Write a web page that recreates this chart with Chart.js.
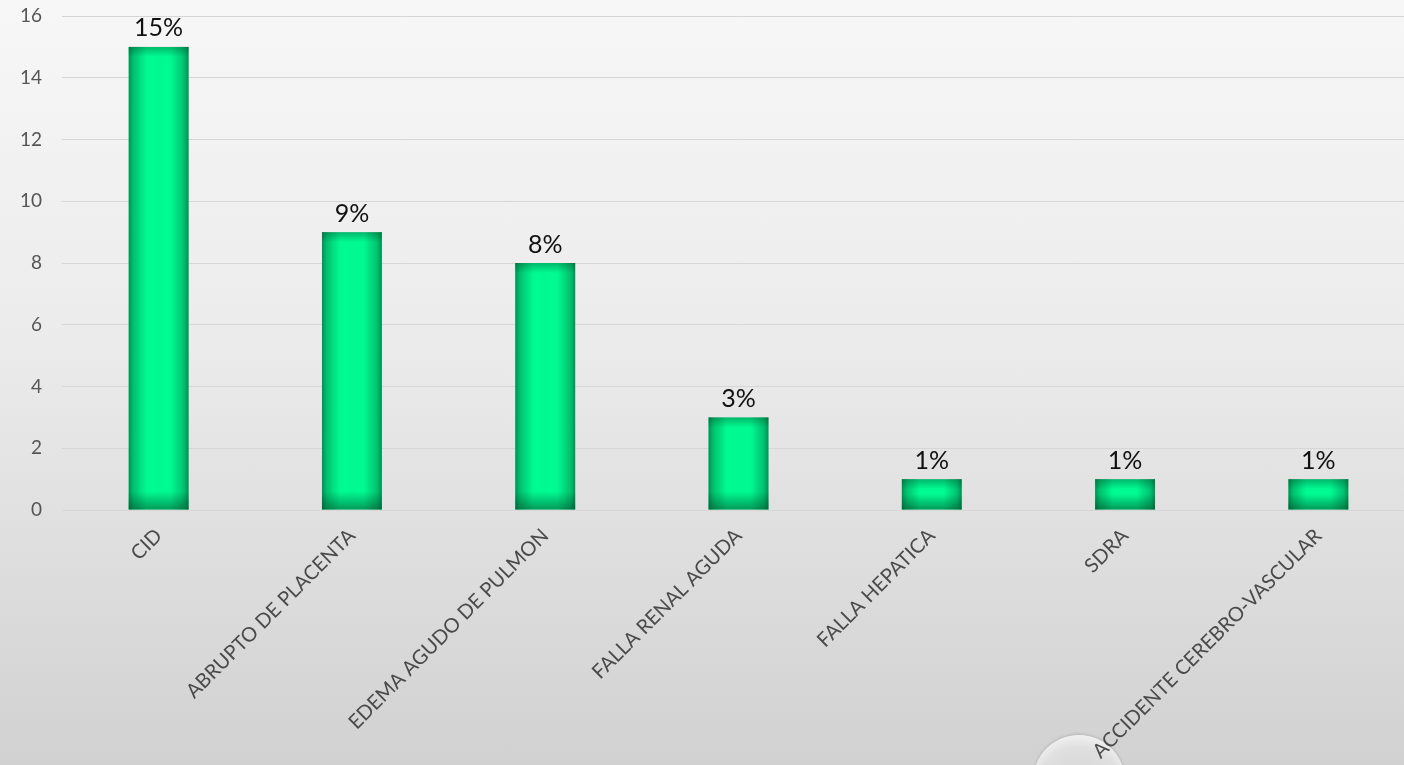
<!DOCTYPE html>
<html>
<head>
<meta charset="utf-8">
<script src="https://cdn.jsdelivr.net/npm/chart.js@4"></script>
<style>
  html, body { margin: 0; padding: 0; }
  body {
    width: 1404px;
    height: 765px;
    overflow: hidden;
    position: relative;
    background: linear-gradient(to bottom, #f7f7f7 0%, #ebebeb 45%, #d1d1d1 100%);
  }
  #wrap { position: absolute; left: 0; top: 0; width: 1415px; height: 765px; }
  #bubble {
    position: absolute;
    left: 1033px;
    top: 735px;
    width: 92px;
    height: 92px;
    border-radius: 50%;
    background: radial-gradient(circle at 50% 60%, rgba(210,210,210,0.9) 0%, rgba(225,225,225,0.9) 60%, rgba(250,250,250,0.95) 85%, rgba(180,180,180,0.8) 100%);
    box-shadow: 0 -1px 3px rgba(0,0,0,0.15);
  }
</style>
</head>
<body>
<div id="bubble"></div>
<div id="wrap"><canvas id="myChart" width="1415" height="765"></canvas></div>
<script>
const categorias = ["CID", "ABRUPTO DE PLACENTA", "EDEMA AGUDO DE PULMON", "FALLA RENAL AGUDA", "FALLA HEPATICA", "SDRA", "ACCIDENTE CEREBRO-VASCULAR"]
const valores = [15, 9, 8, 3, 1, 1, 1]
const etiquetas = ["15%", "9%", "8%", "3%", "1%", "1%", "1%"]

const ctx = document.querySelector("#myChart")

// sombra interior de cada barra
const sombraBarras = {
    id: "sombraBarras",
    afterDatasetsDraw(chart) {
        const c = chart.ctx
        chart.getDatasetMeta(0).data.forEach((bar) => {
            const x0 = bar.x - bar.width / 2
            const x1 = bar.x + bar.width / 2
            const y0 = bar.y
            const y1 = bar.base
            c.save()
            let g = c.createLinearGradient(x0, 0, x1, 0)
            g.addColorStop(0, "rgba(0,60,30,0.55)")
            g.addColorStop(0.08, "rgba(0,60,30,0.3)")
            g.addColorStop(0.3, "rgba(0,60,30,0)")
            g.addColorStop(0.7, "rgba(0,60,30,0)")
            g.addColorStop(0.92, "rgba(0,60,30,0.3)")
            g.addColorStop(1, "rgba(0,60,30,0.55)")
            c.fillStyle = g
            c.fillRect(x0, y0, x1 - x0, y1 - y0)
            const alto = Math.min(18, (y1 - y0) / 2)
            g = c.createLinearGradient(0, y1 - alto, 0, y1)
            g.addColorStop(0, "rgba(0,60,30,0)")
            g.addColorStop(1, "rgba(0,60,30,0.5)")
            c.fillStyle = g
            c.fillRect(x0, y1 - alto, x1 - x0, alto)
            const altoSup = Math.min(10, (y1 - y0) / 3)
            g = c.createLinearGradient(0, y0, 0, y0 + altoSup)
            g.addColorStop(0, "rgba(0,60,30,0.35)")
            g.addColorStop(1, "rgba(0,60,30,0)")
            c.fillStyle = g
            c.fillRect(x0, y0, x1 - x0, altoSup)
            c.restore()
        })
    }
}

// porcentaje encima de cada barra
const etiquetasBarras = {
    id: "etiquetasBarras",
    afterDatasetsDraw(chart) {
        const c = chart.ctx
        c.save()
        c.font = "25px Lato"
        c.fillStyle = "#111111"
        c.textAlign = "center"
        c.textBaseline = "bottom"
        chart.getDatasetMeta(0).data.forEach((bar, i) => {
            c.fillText(etiquetas[i], bar.x, bar.y - 6)
        })
        c.restore()
    }
}

new Chart(ctx, {
    type: "bar",
    data: {
        labels: categorias,
        datasets: [{
            data: valores,
            backgroundColor: "#00fa92",
            borderWidth: 0,
            barPercentage: 0.31,
            categoryPercentage: 1
        }]
    },
    options: {
        responsive: false,
        animation: false,
        devicePixelRatio: 1,
        layout: { padding: { top: 16, right: 0, left: 0, bottom: 0 } },
        plugins: { legend: { display: false }, tooltip: { enabled: false } },
        scales: {
            x: {
                grid: { display: false, drawTicks: false },
                border: { display: false },
                afterFit: (scale) => { scale.height = 255 },
                ticks: {
                    autoSkip: false,
                    minRotation: 45,
                    maxRotation: 45,
                    padding: 14,
                    color: "#4a4a4a",
                    font: { family: "Lato", size: 20 }
                }
            },
            y: {
                min: 0,
                max: 16,
                grid: { color: "#d6d6d6", lineWidth: 1, drawTicks: true, tickLength: 20, tickColor: "rgba(0,0,0,0)" },
                border: { display: false },
                afterFit: (scale) => { scale.width = 62 },
                ticks: {
                    stepSize: 2,
                    padding: 0,
                    color: "#555555",
                    font: { family: "Lato", size: 19 }
                }
            }
        }
    },
    plugins: [sombraBarras, etiquetasBarras]
})
</script>
</body>
</html>
